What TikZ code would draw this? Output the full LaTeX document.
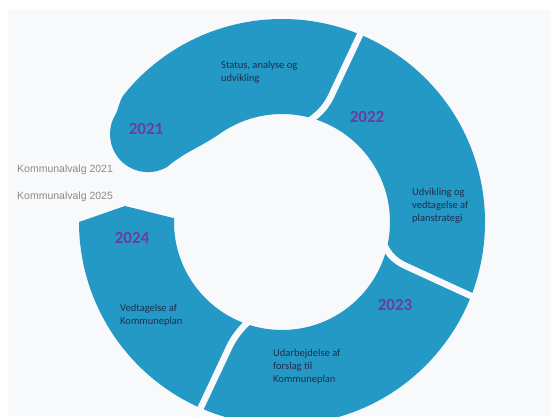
\documentclass[tikz,border=0pt]{standalone}
\usepackage{fontspec}
\setmainfont{Carlito}
\newfontfamily\labelfont{Liberation Sans}
\usetikzlibrary{calc}
\definecolor{ringblue}{HTML}{2599C5}
\definecolor{bgcol}{HTML}{F8F9FA}
\definecolor{yearcol}{HTML}{6A3CA4}
\definecolor{txtcol}{HTML}{1F2D4D}
\definecolor{greycol}{HTML}{8A8A8A}
\tikzset{
  ring/.style={fill=ringblue},
  gapline/.style={draw=bgcol, line width=6.5pt},
  year/.style={font=\fontsize{17}{20}\selectfont\bfseries, text=yearcol, inner sep=0pt},
  desc/.style={font=\fontsize{10.5}{13}\selectfont, text=txtcol, align=left, inner sep=0pt, anchor=base west},
  vote/.style={font=\labelfont\fontsize{10.5}{13}\selectfont, text=greycol, inner sep=0pt, anchor=base west},
}
\begin{document}
\begin{tikzpicture}[x=1pt,y=1pt]
\useasboundingbox (0,0) rectangle (551,-416);
\clip (0,0) rectangle (551,-416);
\fill[white] (0,0) rectangle (551,-416);
\fill[bgcol] (8,-10) rectangle (551,-416);
\coordinate (O) at (282,-222);
% ring with rounded start cap (2021) and chevron end (2024)
\fill[ring] ($(O)+(141:203pt)$) arc[start angle=141,end angle=-180,radius=203pt]
  -- (125,-206) -- ($(O)+(-182:108pt)$)
  arc[start angle=-182,end angle=125,radius=108pt]
  to[out=215,in=40] (167,-167)
  arc[start angle=300,end angle=150,radius=38pt]
  to[out=60,in=231] ($(O)+(141:203pt)$) -- cycle;
% gaps between the segments
\draw[gapline] (366,-22) -- (334,-90) .. controls (328,-104) and (322,-112) .. (309,-121);
\draw[gapline] (381,-236) .. controls (386,-252) and (392,-260) .. (408,-267) -- (482,-301);
\draw[gapline] (254,-317) .. controls (240,-328) and (232,-340) .. (227,-352) -- (195,-420);
% texts
\node[desc] (t1) at (221,-81.5) {Status, analyse og\\udvikling};
\node[year] (y1) at (146,-129) {2021};
\node[year] (y2) at (367,-117) {2022};
\node[desc] (t2) at (412,-221.5) {Udvikling og\\vedtagelse af\\planstrategi};
\node[year] (y3) at (395,-305) {2023};
\node[desc] (t3) at (273,-382.5) {Udarbejdelse af\\forslag til\\Kommuneplan};
\node[year] (y4) at (132,-238) {2024};
\node[desc] (t4) at (120,-324.5) {Vedtagelse af\\Kommuneplan};
\node[vote] (k1) at (17,-172) {Kommunalvalg 2021};
\node[vote] (k2) at (17,-199) {Kommunalvalg 2025};
\end{tikzpicture}
\end{document}
